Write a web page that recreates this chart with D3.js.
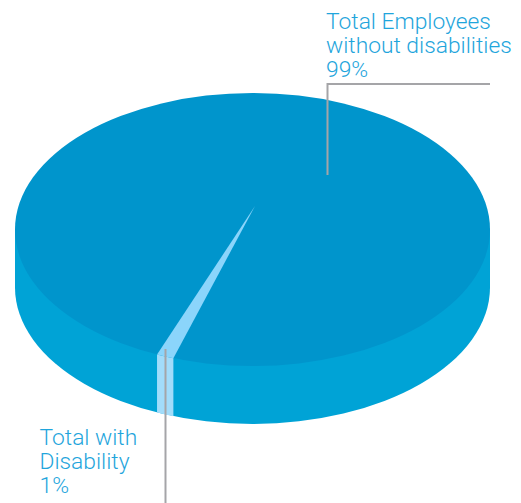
<!DOCTYPE html>
<html>
<head>
<meta charset="utf-8">
<script src="https://cdn.jsdelivr.net/npm/d3@7/dist/d3.min.js"></script>
<style>
  html, body { margin: 0; background: #fff; }
  svg { display: block; }
  text { font-family: Roboto, sans-serif; font-weight: 300; font-size: 22.8px; fill: #1fa5dc; }
</style>
</head>
<body>
<svg id="chart" width="521" height="503"></svg>
<script>
// Workforce split, in percent
const categories = ["Total with Disability", "Total Employees without disabilities"];
const shares = [1, 99];
const labelLines = [
  ["Total with", "Disability", "1%"],
  ["Total Employees", "without disabilities", "99%"]
];

const svg = d3.select("#chart");
const cx = 252.5, cy = 229.5, rx = 237.5, ry = 136.5, depth = 58;
const apex = [255, 206];
// Tilt of the disc: its centre sits above the middle of the drawn ellipse
const tilt = (apex[1] - cy) / ry;

const pie = d3.pie().sort(null)
  .startAngle(196.4 * Math.PI / 180)
  .endAngle((196.4 + 360) * Math.PI / 180);
const arcs = pie(shares);

// Perspective projection of a rim angle (clockwise from the top) to the page
function rim(angle) {
  const x = Math.sin(angle), y = -Math.cos(angle);
  const d = 1 + tilt * y;
  return [cx + rx * x * Math.sqrt(1 - tilt * tilt) / d, cy + ry * (y + tilt) / d];
}

const colors = {
  topMain: "#0095cc", wallMain: "#00a3d6",
  topSlice: "#8bd5fb", wallSlice: "#a2dcfa", leader: "#a5a5a8"
};
const ellipseArc = (sweep, x, y) => `A${rx},${ry} 0 0 ${sweep} ${x},${y}`;

// Outer wall of the drum
svg.append("path")
  .attr("fill", colors.wallMain)
  .attr("d", `M${cx - rx},${cy} V${cy + depth} ${ellipseArc(0, cx + rx, cy + depth)} V${cy} Z`);

// Top face
svg.append("ellipse")
  .attr("cx", cx).attr("cy", cy).attr("rx", rx).attr("ry", ry)
  .attr("fill", colors.topMain);

// The small slice: wall band and wedge on the top face
const p0 = rim(arcs[0].startAngle), p1 = rim(arcs[0].endAngle);
svg.append("path")
  .attr("fill", colors.wallSlice)
  .attr("d", `M${p0[0]},${p0[1]} V${p0[1] + depth} ${ellipseArc(1, p1[0], p1[1] + depth)} V${p1[1]} ${ellipseArc(0, p0[0], p0[1])} Z`);
svg.append("path")
  .attr("fill", colors.topSlice)
  .attr("d", `M${apex[0]},${apex[1]} L${p0[0]},${p0[1]} ${ellipseArc(1, p1[0], p1[1])} Z`);

// Leader lines
const leader = d3.line();
svg.append("path").attr("fill", "none").attr("stroke", colors.leader).attr("stroke-width", 2)
  .attr("d", leader([[490, 84], [327.5, 84], [327.5, 175]]));
svg.append("path").attr("fill", "none").attr("stroke", colors.leader).attr("stroke-width", 2)
  .attr("d", leader([[165.5, 349], [165.5, 503]]));

// Labels
const labelAnchors = [[39.5, 445], [326, 29]];
labelLines.forEach((lines, i) => {
  svg.append("text")
    .attr("aria-label", categories[i])
    .selectAll("tspan").data(lines).join("tspan")
    .attr("x", labelAnchors[i][0])
    .attr("y", (d, j) => labelAnchors[i][1] + j * 24)
    .text(d => d);
});
</script>
</body>
</html>
